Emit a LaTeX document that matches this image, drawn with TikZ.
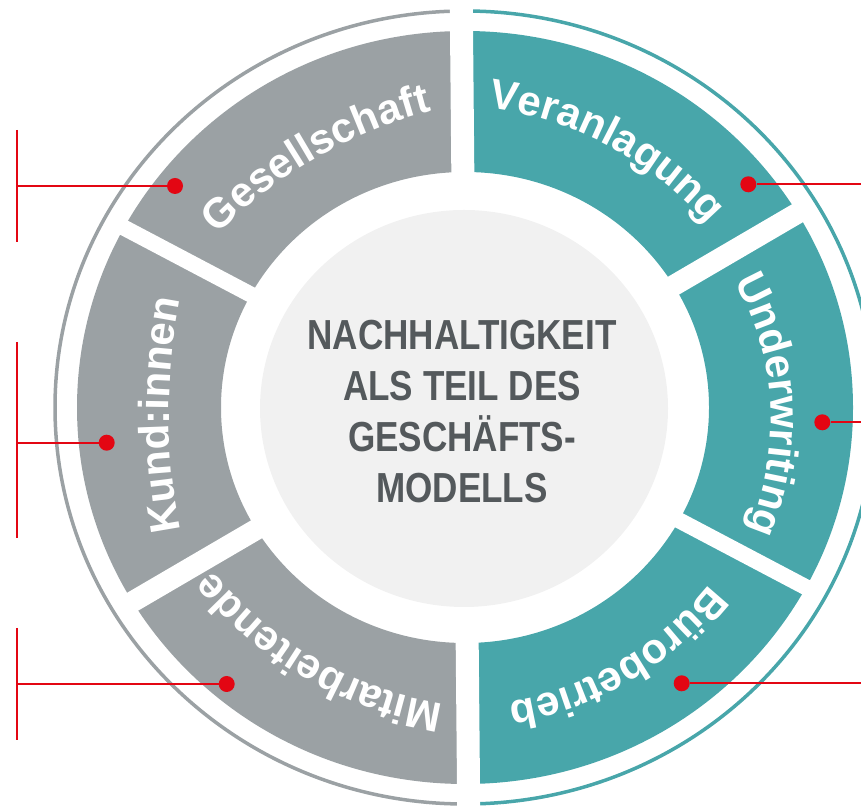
\documentclass[tikz,border=0pt]{standalone}
\usepackage{fontspec}
\usetikzlibrary{calc,decorations.text}
\newfontfamily\segfont{Liberation Sans}
\newfontfamily\centerfont{Liberation Sans}[FakeStretch=0.835]
\definecolor{seggray}{HTML}{9BA1A4}
\definecolor{segteal}{HTML}{48A6AA}
\definecolor{coreg}{HTML}{F1F1F1}
\definecolor{coretext}{HTML}{54595C}
\definecolor{callred}{HTML}{E30613}
\newcommand\segstyle{\segfont\bfseries\fontsize{42}{42}\selectfont}
\newcommand\arctext[5]{%
  \path[decorate, decoration={text along path, text color=white, text align=center, text={|\segstyle|#5}}]
    ($(#1)+(#3+#4:#2)$) arc[start angle=#3+#4, end angle=#3-#4, radius=#2];
}
\tikzset{
  ringline/.style={line width=3.5pt},
  gapstrip/.style={draw=white, line cap=butt},
  callout/.style={draw=callred, line width=2.2pt},
  calldot/.style={circle, fill=callred, minimum size=16pt, inner sep=0pt},
  callbar/.style={draw=callred, line width=2pt},
}
\begin{document}
\begin{tikzpicture}[x=1pt,y=1pt]
\useasboundingbox (0,0) rectangle (861,805);
\coordinate (C) at (465,397.5);
% outer thin ring
\draw[ringline, seggray] ($(C)+(0,396.5)$) arc[start angle=90, end angle=270, x radius=410, y radius=396.5];
\draw[ringline, segteal] ($(C)+(0,-396.5)$) arc[start angle=-90, end angle=90, x radius=410, y radius=396.5];
% segment halves
\fill[seggray] ($(C)+(0,376.5)$) arc[start angle=90,end angle=270,x radius=388,y radius=376.5]
  -- ($(C)+(0,-235.5)$) arc[start angle=270,end angle=90,x radius=244,y radius=235.5] -- cycle;
\fill[segteal] ($(C)+(0,-376.5)$) arc[start angle=-90,end angle=90,x radius=388,y radius=376.5]
  -- ($(C)+(0,235.5)$) arc[start angle=90,end angle=-90,x radius=244,y radius=235.5] -- cycle;
% white gaps
\draw[gapstrip, line width=23pt] ($(C)+(90.53:420)$) -- ($(C)+(-89.47:420)$);
\draw[gapstrip, line width=21pt] ($(C)+(30.3:396)$) -- ($(C)+(210.3:396)$);
\draw[gapstrip, line width=16pt] ($(C)+(152.2:396)$) -- ($(C)+(-27.8:396)$);
% core
\fill[coreg] ($(C)+(-1,-1)$) ellipse[x radius=204, y radius=198.5];
\node[font={\centerfont\bfseries\fontsize{42}{51}\selectfont}, text=coretext, align=center, inner sep=0pt] (core) at (462,393.5)
  {NACHHALTIGKEIT\\ALS TEIL DES\\GESCHÄFTS-\\MODELLS};
% curved segment labels
\arctext{541.2,257.2}{450}{120}{25}{Gesellschaft}
\arctext{444.3,349.9}{350}{62}{32}{Veranlagung}
\arctext{769,390}{600}{180}{18}{Kund:innen}
\arctext{491,385}{280}{3.2}{38}{Underwriting}
\arctext{500.2,466.8}{370}{240}{32}{Mitarbeitende}
\arctext{457.3,419}{320}{-59.5}{35}{Bürobetrieb}
% callouts left
\coordinate (bGt) at (16.5,675); \coordinate (bGb) at (16.5,563); \coordinate (bG) at (16.5,619);
\coordinate (bKt) at (16.5,463); \coordinate (bKb) at (16.5,267); \coordinate (bK) at (16.5,362.3);
\coordinate (bMt) at (16.5,177); \coordinate (bMb) at (16.5,65); \coordinate (bM) at (16.5,121);
\draw[callbar] (bGt) -- (bGb);
\draw[callbar] (bKt) -- (bKb);
\draw[callbar] (bMt) -- (bMb);
\node[calldot] (dG) at (175,619) {};
\node[calldot] (dK) at (106.7,362.3) {};
\node[calldot] (dM) at (226.7,121) {};
\draw[callout] (bG) -- (dG);
\draw[callout] (bK) -- (dK);
\draw[callout] (bM) -- (dM);
% callouts right
\node[calldot] (dV) at (748.3,620.7) {};
\node[calldot] (dU) at (822.3,382.7) {};
\node[calldot] (dB) at (681.7,121.7) {};
\coordinate (eV) at (861,620.7);
\coordinate (eU) at (861,382.7);
\coordinate (eB) at (861,121.7);
\draw[callout] (dV) -- (eV);
\draw[callout] (dU) -- (eU);
\draw[callout] (dB) -- (eB);
\end{tikzpicture}
\end{document}
